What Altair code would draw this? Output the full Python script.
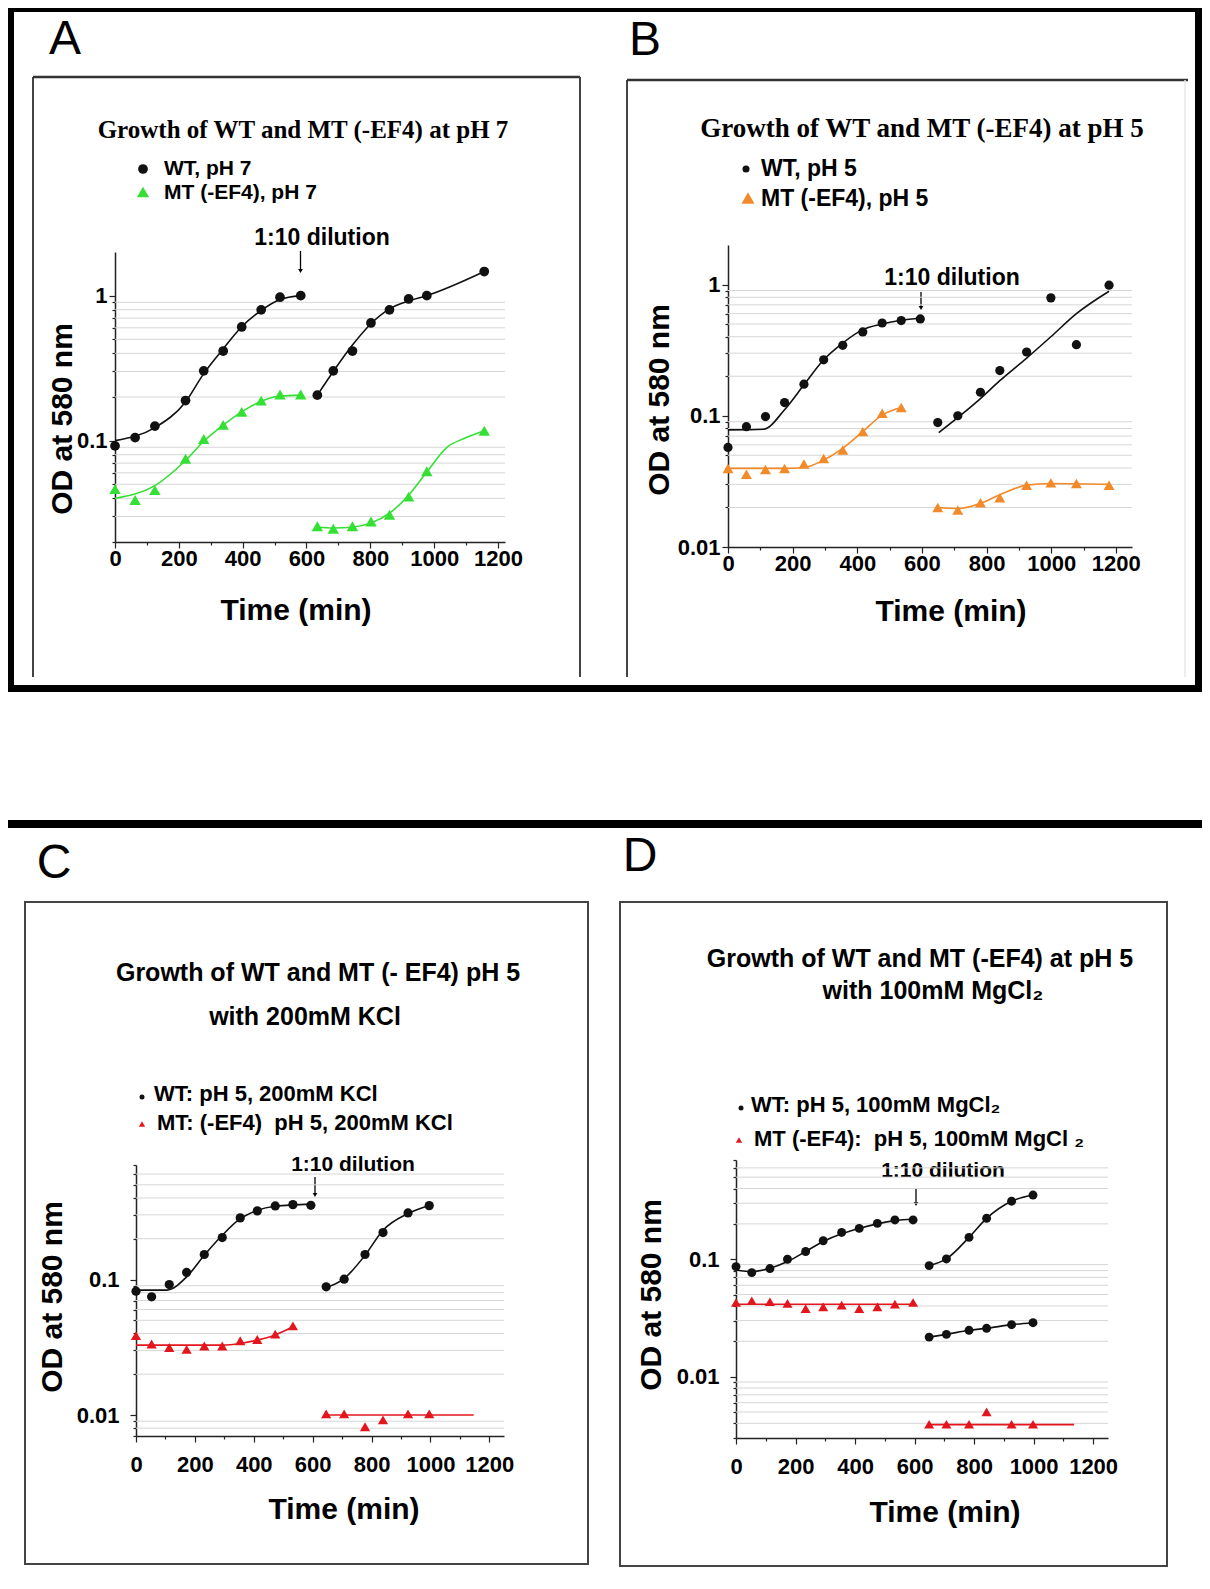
import altair as alt
import pandas as pd

W, H = 1194, 1565
M = 8  # page margin: page coords -> view coords

SANS = "Liberation Sans, Arial, Helvetica, sans-serif"
SERIF = "Liberation Serif, Times New Roman, serif"

BLACK = "#111111"
GREEN = "#35e035"
ORANGE = "#f28a2a"
RED = "#e3161e"

X_TICKS = [0, 100, 200, 300, 400, 500, 600, 700, 800, 900, 1000, 1100, 1200]

# ---------------- Panel A (pH 7) ----------------
A_WT_T = [0, 63, 125, 221, 278, 339, 397, 458, 517, 582, 634, 684, 744, 802, 860, 920, 977, 1157]
A_WT_OD = [0.092, 0.105, 0.126, 0.189, 0.303, 0.415, 0.608, 0.798, 0.975, 1.0,
           0.206, 0.303, 0.415, 0.648, 0.798, 0.949, 1.0, 1.466]
A_WT_SEG = [1] * 10 + [2] * 8
A_MT_T = [0, 63, 125, 221, 278, 339, 397, 458, 517, 582, 634, 684, 744, 802, 860, 920, 977, 1157]
A_MT_OD = [0.0463, 0.039, 0.0456, 0.075, 0.1026, 0.1285, 0.158, 0.189, 0.208, 0.208,
           0.0257, 0.0247, 0.0257, 0.0277, 0.0308, 0.0411, 0.0615, 0.117]
A_MT_SEG = [1] * 10 + [2] * 8
A_WT_FIT_T = [0, 125, 221, 278, 339, 397, 458, 517, 582, 634, 684, 744, 802, 860, 920, 977, 1157]
A_WT_FIT_OD = [0.1, 0.123, 0.185, 0.29, 0.43, 0.61, 0.79, 0.94, 1.0,
               0.206, 0.3, 0.456, 0.64, 0.81, 0.92, 1.0, 1.466]
A_WT_FIT_SEG = [1] * 9 + [2] * 8
A_MT_FIT_T = [0, 125, 221, 278, 339, 397, 458, 517, 582, 634, 684, 744, 802, 860, 920, 977, 1040, 1092, 1157]
A_MT_FIT_OD = [0.04, 0.049, 0.073, 0.099, 0.128, 0.158, 0.187, 0.203, 0.206,
               0.0253, 0.025, 0.0253, 0.027, 0.0316, 0.042, 0.0607, 0.09, 0.103, 0.117]
A_MT_FIT_SEG = [1] * 9 + [2] * 10

# ---------------- Panel B (pH 5) ----------------
B_WT_T = [0, 57, 116, 175, 235, 296, 355, 417, 477, 536, 595, 649, 711, 781, 841, 924, 999, 1078, 1179]
B_WT_OD = [0.0574, 0.0826, 0.0986, 0.126, 0.174, 0.267, 0.344, 0.435, 0.509, 0.531, 0.547,
           0.0887, 0.1, 0.151, 0.221, 0.306, 0.791, 0.348, 0.988]
B_WT_SEG = [1] * 11 + [2] * 8
B_MT_T = [0, 57, 116, 175, 235, 296, 355, 417, 477, 536, 649, 711, 781, 841, 924, 999, 1078, 1179]
B_MT_OD = [0.0397, 0.0359, 0.039, 0.0397, 0.0429, 0.0473, 0.0548, 0.0757, 0.1045, 0.1154,
           0.02, 0.0191, 0.0217, 0.0237, 0.0296, 0.0308, 0.0305, 0.0296]
B_MT_SEG = [1] * 10 + [2] * 8
B_WT_FIT_T = [0, 110, 175, 235, 296, 355, 417, 477, 536, 595, 652, 781, 841, 924, 999, 1078, 1179]
B_WT_FIT_OD = [0.078, 0.079, 0.111, 0.172, 0.267, 0.358, 0.453, 0.5, 0.534, 0.556,
               0.0744, 0.135, 0.185, 0.275, 0.40, 0.60, 0.889]
B_WT_FIT_SEG = [1] * 10 + [2] * 7
B_MT_FIT_T = [0, 175, 235, 296, 355, 417, 477, 536, 649, 711, 781, 841, 924, 999, 1179]
B_MT_FIT_OD = [0.0397, 0.0397, 0.0403, 0.046, 0.0565, 0.0757, 0.101, 0.1154,
               0.02, 0.0196, 0.0215, 0.025, 0.0296, 0.0305, 0.030]
B_MT_FIT_SEG = [1] * 8 + [2] * 7

# ---------------- Panel C (pH 5, 200mM KCl) ----------------
C_WT_T = [0, 53, 113, 172, 232, 293, 354, 412, 473, 533, 594, 646, 707, 778, 839, 924, 996]
C_WT_OD = [0.082, 0.0745, 0.0918, 0.1127, 0.153, 0.204, 0.285, 0.321, 0.349, 0.357, 0.353,
           0.0883, 0.1005, 0.153, 0.222, 0.31, 0.351]
C_WT_SEG = [1] * 11 + [2] * 6
C_MT_T = [0, 53, 113, 172, 232, 293, 354, 412, 473, 533, 646, 707, 778, 839, 924, 996]
C_MT_OD = [0.0385, 0.0334, 0.0315, 0.0305, 0.0323, 0.0323, 0.0353, 0.0361, 0.0395, 0.0455,
           0.0102, 0.0102, 0.0082, 0.0092, 0.0102, 0.0102]
C_MT_SEG = [1] * 10 + [2] * 6
C_WT_FIT_T = [0, 105, 172, 232, 293, 354, 412, 473, 594, 646, 707, 778, 839, 924, 996]
C_WT_FIT_OD = [0.0835, 0.0835, 0.1046, 0.151, 0.212, 0.281, 0.324, 0.347, 0.36,
               0.0873, 0.1017, 0.151, 0.231, 0.307, 0.352]
C_WT_FIT_SEG = [1] * 9 + [2] * 6
C_MT_FIT_T = [0, 293, 354, 412, 473, 533, 646, 1147]
C_MT_FIT_OD = [0.0328, 0.0328, 0.0337, 0.0357, 0.039, 0.0448, 0.01, 0.01]
C_MT_FIT_SEG = [1] * 6 + [2] * 2

# ---------------- Panel D (pH 5, 100mM MgCl2) ----------------
D_WT_T = [0, 53, 114, 173, 234, 293, 355, 414, 475, 534, 595,
          649, 707, 783, 842, 926, 998, 649, 707, 783, 842, 926, 998]
D_WT_OD = [0.0865, 0.0769, 0.0832, 0.1, 0.1164, 0.1437, 0.169, 0.183, 0.202, 0.216, 0.216,
           0.0882, 0.1006, 0.1535, 0.223, 0.312, 0.352,
           0.0217, 0.0229, 0.0248, 0.0258, 0.0277, 0.0288]
D_WT_SEG = [1] * 11 + [2] * 6 + [3] * 6
D_MT_T = [0, 53, 114, 173, 234, 293, 355, 414, 475, 534, 595, 649, 707, 783, 842, 926, 998]
D_MT_OD = [0.0428, 0.0443, 0.0434, 0.042, 0.038, 0.0393, 0.0406, 0.038, 0.0393, 0.0414, 0.0428,
           0.00393, 0.00393, 0.00393, 0.00501, 0.00393, 0.00393]
D_MT_SEG = [1] * 11 + [2] * 6
D_WT_FIT_T = [0, 53, 114, 173, 234, 293, 355, 414, 475, 534, 595,
              649, 707, 783, 842, 926, 998, 649, 707, 783, 842, 926, 998]
D_WT_FIT_OD = [0.081, 0.0784, 0.0837, 0.0955, 0.1164, 0.1417, 0.1648, 0.183, 0.2, 0.213, 0.22,
               0.0882, 0.1006, 0.1535, 0.223, 0.312, 0.352,
               0.0217, 0.0229, 0.0248, 0.0258, 0.0277, 0.0288]
D_WT_FIT_SEG = [1] * 11 + [2] * 6 + [3] * 6
D_MT_FIT_T = [0, 595, 649, 1136]
D_MT_FIT_OD = [0.0414, 0.0414, 0.0039, 0.0039]
D_MT_FIT_SEG = [1, 1, 2, 2]

# y tick / grid values
A_YTICKS = [0.02, 0.03, 0.04, 0.05, 0.06, 0.07, 0.08, 0.09, 0.1, 0.2, 0.3, 0.4, 0.5, 0.6, 0.7, 0.8, 0.9, 1]
A_GRID = [0.03, 0.04, 0.05, 0.06, 0.07, 0.08, 0.09, 0.2, 0.3, 0.4, 0.5, 0.6, 0.7, 0.8, 0.9]
B_YTICKS = [0.01, 0.02, 0.03, 0.04, 0.05, 0.06, 0.07, 0.08, 0.09, 0.1, 0.2, 0.3, 0.4, 0.5, 0.6, 0.7, 0.8, 0.9, 1]
B_GRID = [0.02, 0.03, 0.04, 0.05, 0.06, 0.07, 0.08, 0.09, 0.2, 0.3, 0.4, 0.5, 0.6, 0.7, 0.8, 0.9]
C_YTICKS = [0.007, 0.008, 0.009, 0.01, 0.02, 0.03, 0.04, 0.05, 0.06, 0.07, 0.08, 0.09, 0.1,
            0.2, 0.3, 0.4, 0.5, 0.6, 0.7]
C_GRID = [0.008, 0.009, 0.02, 0.03, 0.04, 0.05, 0.06, 0.07, 0.08, 0.09, 0.2, 0.3, 0.4, 0.5, 0.6]
D_YTICKS = [0.003, 0.004, 0.005, 0.006, 0.007, 0.008, 0.009, 0.01, 0.02, 0.03, 0.04, 0.05, 0.06,
            0.07, 0.08, 0.09, 0.1, 0.2, 0.3, 0.4, 0.5, 0.6, 0.7]
D_GRID = [0.004, 0.005, 0.006, 0.007, 0.008, 0.009, 0.02, 0.03, 0.04, 0.05, 0.06, 0.07, 0.08, 0.09,
          0.2, 0.3, 0.4, 0.5, 0.6]

PANELS = [
    dict(x0=115, x1=505, xdom=[0, 1222], yb=542, yt=252, ydom=[0.02, 2],
         yticks=A_YTICKS, grid=A_GRID, mt_color=GREEN,
         wt=(A_WT_T, A_WT_OD, A_WT_SEG), mt=(A_MT_T, A_MT_OD, A_MT_SEG),
         wtfit=(A_WT_FIT_T, A_WT_FIT_OD, A_WT_FIT_SEG), mtfit=(A_MT_FIT_T, A_MT_FIT_OD, A_MT_FIT_SEG),
         wt_size=95, mt_size=130, xpad=0, ypad=2, lsize=22),
    dict(x0=728, x1=1132, xdom=[0, 1250], yb=547, yt=245, ydom=[0.01, 2],
         yticks=B_YTICKS, grid=B_GRID, mt_color=ORANGE,
         wt=(B_WT_T, B_WT_OD, B_WT_SEG), mt=(B_MT_T, B_MT_OD, B_MT_SEG),
         wtfit=(B_WT_FIT_T, B_WT_FIT_OD, B_WT_FIT_SEG), mtfit=(B_MT_FIT_T, B_MT_FIT_OD, B_MT_FIT_SEG),
         wt_size=85, mt_size=120, xpad=0, ypad=2, lsize=22),
    dict(x0=136, x1=504, xdom=[0, 1250], yb=1436, yt=1165, ydom=[0.007, 0.7],
         yticks=C_YTICKS, grid=C_GRID, mt_color=RED,
         wt=(C_WT_T, C_WT_OD, C_WT_SEG), mt=(C_MT_T, C_MT_OD, C_MT_SEG),
         wtfit=(C_WT_FIT_T, C_WT_FIT_OD, C_WT_FIT_SEG), mtfit=(C_MT_FIT_T, C_MT_FIT_OD, C_MT_FIT_SEG),
         wt_size=85, mt_size=105, xpad=12, ypad=11, lsize=22),
    dict(x0=736, x1=1108, xdom=[0, 1250], yb=1438, yt=1160, ydom=[0.003, 0.7],
         yticks=D_YTICKS, grid=D_GRID, mt_color=RED,
         wt=(D_WT_T, D_WT_OD, D_WT_SEG), mt=(D_MT_T, D_MT_OD, D_MT_SEG),
         wtfit=(D_WT_FIT_T, D_WT_FIT_OD, D_WT_FIT_SEG), mtfit=(D_MT_FIT_T, D_MT_FIT_OD, D_MT_FIT_SEG),
         wt_size=80, mt_size=100, xpad=12, ypad=11, lsize=22),
]


def frame(t, od, seg):
    return pd.DataFrame({"t": t, "od": od, "seg": seg})


def panel_layers(P):
    xs = alt.Scale(domain=P["xdom"], range=[P["x0"] - M, P["x1"] - M], nice=False, zero=False)
    ys = alt.Scale(type="log", domain=P["ydom"], range=[P["yb"] - M, P["yt"] - M], nice=False)
    xaxis = alt.Axis(
        orient="bottom", offset=(P["yb"] - M) - H, values=X_TICKS, title=None, grid=False,
        labelExpr="datum.value % 200 == 0 ? format(datum.value, 'd') : ''",
        tickSize={"condition": {"test": "datum.value % 200 == 0", "value": 6}, "value": 3},
        labelFlush=False, labelOverlap=False, labelPadding=P["xpad"], labelFontSize=P["lsize"],
    )
    yaxis = alt.Axis(
        orient="left", offset=-(P["x0"] - M), values=P["yticks"], title=None, grid=False,
        labelExpr="indexof([1, 0.1, 0.01], datum.value) >= 0 ? format(datum.value, '~g') : ''",
        tickSize={"condition": {"test": "indexof([1, 0.1, 0.01], datum.value) >= 0", "value": 6}, "value": 3},
        labelFlush=False, labelOverlap=False, labelPadding=P["ypad"], labelFontSize=P["lsize"],
    )
    layers = []
    layers.append(
        alt.Chart(pd.DataFrame({"g": P["grid"]}))
        .mark_rule(color="#d6d6d6", strokeWidth=1)
        .encode(y=alt.Y("g:Q", scale=ys, axis=yaxis),
                x=alt.value(P["x0"] - M), x2=alt.value(P["x1"] - M))
    )
    for fit, col in ((P["wtfit"], BLACK), (P["mtfit"], P["mt_color"])):
        layers.append(
            alt.Chart(frame(*fit))
            .mark_line(color=col, strokeWidth=1.6, interpolate="monotone")
            .encode(x=alt.X("t:Q", scale=xs, axis=None),
                    y=alt.Y("od:Q", scale=ys, axis=None),
                    detail="seg:N")
        )
    layers.append(
        alt.Chart(frame(*P["mt"]))
        .mark_point(shape="triangle-up", filled=True, size=P["mt_size"], color=P["mt_color"], opacity=1)
        .encode(x=alt.X("t:Q", scale=xs, axis=None), y=alt.Y("od:Q", scale=ys, axis=None))
    )
    layers.append(
        alt.Chart(frame(*P["wt"]))
        .mark_point(shape="circle", filled=True, size=P["wt_size"], color=BLACK, opacity=1)
        .encode(x=alt.X("t:Q", scale=xs, axis=xaxis), y=alt.Y("od:Q", scale=ys, axis=None))
    )
    return layers


def one():
    return pd.DataFrame({"k": [0]})


def text(s, x, y, size, font=SANS, weight="bold", angle=0, align="center"):
    kw = dict(font=font, fontSize=size, fontWeight=weight, align=align, baseline="middle", color="black")
    if angle:
        kw["angle"] = angle
    return (alt.Chart(pd.DataFrame({"label": [s]}))
            .mark_text(**kw)
            .encode(text="label:N", x=alt.value(x - M), y=alt.value(y - M)))


def symbol(shape, x, y, size, color):
    return (alt.Chart(one())
            .mark_point(shape=shape, filled=True, size=size, color=color, opacity=1)
            .encode(x=alt.value(x - M), y=alt.value(y - M)))


def rule(x1, y1, x2, y2, color="#444444", width=2.0):
    return (alt.Chart(one())
            .mark_rule(color=color, strokeWidth=width)
            .encode(x=alt.value(x1 - M), y=alt.value(y1 - M), x2=alt.value(x2 - M), y2=alt.value(y2 - M)))


def box(x1, y1, x2, y2, color="#444444", width=2.0):
    return (alt.Chart(one())
            .mark_rect(filled=False, stroke=color, strokeWidth=width)
            .encode(x=alt.value(x1 - M), y=alt.value(y1 - M), x2=alt.value(x2 - M), y2=alt.value(y2 - M)))


def arrow(x, y1, y2):
    return [rule(x, y1, x, y2 - 3, color="black", width=1.3),
            symbol("triangle-down", x, y2 - 3, 22, "black")]


# text content
TITLE_A = "Growth of WT and MT (-EF4) at pH 7"
TITLE_B = "Growth of WT and MT (-EF4) at pH 5"
TITLE_C = ["Growth of WT and MT (- EF4) pH 5", "with 200mM KCl"]
TITLE_D = ["Growth of WT and MT (-EF4) at pH 5", "with 100mM MgCl\u2082"]
LEG_A = ["WT, pH 7", "MT (-EF4), pH 7"]
LEG_B = ["WT, pH 5", "MT (-EF4), pH 5"]
LEG_C = ["WT: pH 5, 200mM KCl", "MT: (-EF4)\u00a0 pH 5, 200mM KCl"]
LEG_D = ["WT: pH 5, 100mM MgCl\u2082", "MT (-EF4):\u00a0 pH 5, 100mM MgCl \u2082"]
Y_TITLE = "OD at 580 nm"
X_TITLE = "Time (min)"
DILUTION = "1:10 dilution"

deco = []
# outer frames
deco.append(box(10.5, 8.5, 1198.5, 688.5, color="black", width=7))
deco.append(rule(0, 824, 1210, 824, color="black", width=8))
# inner boxes
deco += [rule(33, 77, 33, 677), rule(33, 77, 580, 77, color="#333333", width=2.5), rule(580, 77, 580, 677)]
deco += [rule(627, 80, 627, 677), rule(627, 80, 1188, 80, color="#333333", width=2.5),
         rule(1185, 80, 1185, 677, color="#e8e8e8", width=1.5)]
deco.append(box(25, 902, 588, 1564))
deco.append(box(620, 902, 1167, 1566))

# panel letters
deco += [text("A", 65, 40, 48, weight="normal"), text("B", 645, 41, 48, weight="normal"),
         text("C", 54, 864, 48, weight="normal"), text("D", 640, 857, 48, weight="normal")]

# titles
deco += [text(TITLE_A, 303, 130, 25, font=SERIF), text(TITLE_B, 922, 129, 27, font=SERIF)]
deco += [text(TITLE_C[0], 318, 973, 25), text(TITLE_C[1], 305, 1017, 25)]
deco += [text(TITLE_D[0], 920, 959, 25), text(TITLE_D[1], 933, 991, 25)]

# legends
deco += [symbol("circle", 143, 169, 95, BLACK), text(LEG_A[0], 164, 169, 21, align="left"),
         symbol("triangle-up", 143, 192, 150, GREEN), text(LEG_A[1], 164, 193, 21, align="left")]
deco += [symbol("circle", 746, 169, 50, BLACK), text(LEG_B[0], 761, 169, 23, align="left"),
         symbol("triangle-up", 748, 198, 170, ORANGE), text(LEG_B[1], 761, 199, 23, align="left")]
deco += [symbol("circle", 142, 1097, 25, BLACK), text(LEG_C[0], 154, 1094, 22, align="left"),
         symbol("triangle-up", 142, 1124, 40, RED), text(LEG_C[1], 157, 1123, 22, align="left")]
deco += [symbol("circle", 741, 1108, 25, BLACK), text(LEG_D[0], 751, 1105, 22, align="left"),
         symbol("triangle-up", 739, 1140, 40, RED), text(LEG_D[1], 754, 1139, 22, align="left")]

# axis titles
for (yx, yy, tx, ty) in [(63, 419, 296, 611), (660, 400, 951, 612), (53, 1297, 344, 1510), (652, 1295, 945, 1513)]:
    deco.append(text(Y_TITLE, yx, yy, 30, angle=270))
    deco.append(text(X_TITLE, tx, ty, 30))

# dilution annotations
deco.append(text(DILUTION, 322, 238, 23))
deco += arrow(300.5, 251, 274)
deco.append(text(DILUTION, 952, 278, 23))
deco += arrow(921, 292, 311)
deco.append(text(DILUTION, 353, 1165, 21))
deco += arrow(315, 1177, 1198)
deco.append(text(DILUTION, 943, 1171, 21))
deco += arrow(916, 1188, 1207)

data_layers = []
for P in PANELS:
    data_layers += panel_layers(P)

chart = (
    alt.layer(*(deco + data_layers))
    .resolve_scale(x="independent", y="independent")
    .properties(width=W, height=H, padding=0, autosize=alt.AutoSizeParams(type="none"), background="white")
    .configure_view(stroke=None)
    .configure_axis(
        labelFont=SANS, labelFontSize=21, labelFontWeight="bold", labelColor="black",
        domainColor="#222222", domainWidth=1.5, tickColor="#222222", tickWidth=1.2,
    )
)

chart.save("out.html", embed_options={"renderer": "svg", "actions": False})
